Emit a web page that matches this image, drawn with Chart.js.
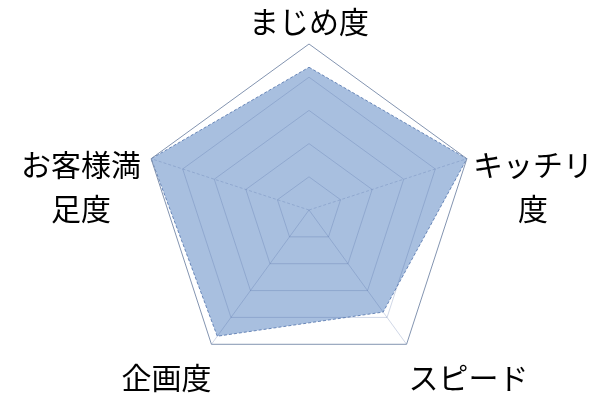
<!DOCTYPE html>
<html lang="ja">
<head>
<meta charset="utf-8">
<script src="https://cdn.jsdelivr.net/npm/chart.js@4"></script>
<style>
  html, body { margin: 0; padding: 0; background: #fff; }
  #wrap { width: 600px; height: 412px; }
</style>
</head>
<body>
<div id="wrap"><canvas id="radarChart"></canvas></div>
<script>
// 軸ラベル（改行は配列で）
const axisLabels = [['まじめ度'], ['キッチリ', '度'], ['スピード'], ['企画度'], ['お客様満', '足度']];
// 評価値（5段階）
const scores = [4.3, 5, 3.8, 4.7, 5];
const scaleMin = 0;
const scaleMax = 5;
const scaleStep = 1;

const gridColor = 'rgba(70, 100, 160, 0.25)';
const outerColor = '#8394B0';

// ラベルは自前で描く（Chart.js標準だと左右の2行ラベルが上に寄るため）
const axisLabelPlugin = {
    id: 'axisLabels',
    afterDraw(chart) {
        const scale = chart.scales.r;
        const ctx = chart.ctx;
        const lineH = 44;
        ctx.save();
        ctx.font = '30px "Noto Sans CJK JP", sans-serif';
        ctx.fillStyle = '#000';
        ctx.textAlign = 'center';
        ctx.textBaseline = 'middle';
        axisLabels.forEach((lines, i) => {
            const p = scale.getPointPosition(i, scale.drawingArea);
            const w = Math.max(...lines.map(t => ctx.measureText(t).width));
            const dx = p.x - scale.xCenter;
            const dy = p.y - scale.yCenter;
            let cx, firstY;
            if (Math.abs(dx) < 1) { // 上
                cx = p.x;
                firstY = p.y - 22;
            } else if (dy < 0) { // 左右
                cx = dx > 0 ? p.x + 6 + w / 2 : p.x - 10 - w / 2;
                firstY = p.y + 6;
            } else { // 下
                cx = dx > 0 ? p.x + 2 + w / 2 : p.x - w / 2;
                firstY = p.y + 33;
            }
            lines.forEach((t, k) => ctx.fillText(t, cx, firstY + k * lineH));
        });
        ctx.restore();
    }
};

const ctx = document.getElementById('radarChart').getContext('2d');
new Chart(ctx, {
    type: 'radar',
    data: {
        labels: axisLabels.map(l => l.join('')),
        datasets: [{
            label: '評価',
            data: scores,
            backgroundColor: '#A8BFDF',
            borderColor: 'rgba(70, 105, 165, 0.75)',
            borderWidth: 1,
            borderDash: [3, 2],
            pointRadius: 0,
            fill: true
        }]
    },
    options: {
        responsive: true,
        maintainAspectRatio: false,
        animation: false,
        layout: { padding: { top: 44, bottom: 36, left: 18, right: 0 } },
        scales: {
            r: {
                min: scaleMin,
                max: scaleMax,
                ticks: { stepSize: scaleStep, display: false },
                pointLabels: { display: false },
                grid: {
                    z: 1, // グリッドを塗りの上に
                    color: c => c.index === (scaleMax - scaleMin) / scaleStep ? outerColor : gridColor,
                    lineWidth: 1
                },
                angleLines: {
                    color: gridColor,
                    lineWidth: c => c.index === 0 ? 0 : 1,
                    borderDash: c => (c.index === 1 || c.index === 4) ? [3, 2] : []
                }
            }
        },
        plugins: {
            legend: { display: false },
            tooltip: { enabled: false }
        }
    },
    plugins: [axisLabelPlugin]
});
</script>
</body>
</html>
